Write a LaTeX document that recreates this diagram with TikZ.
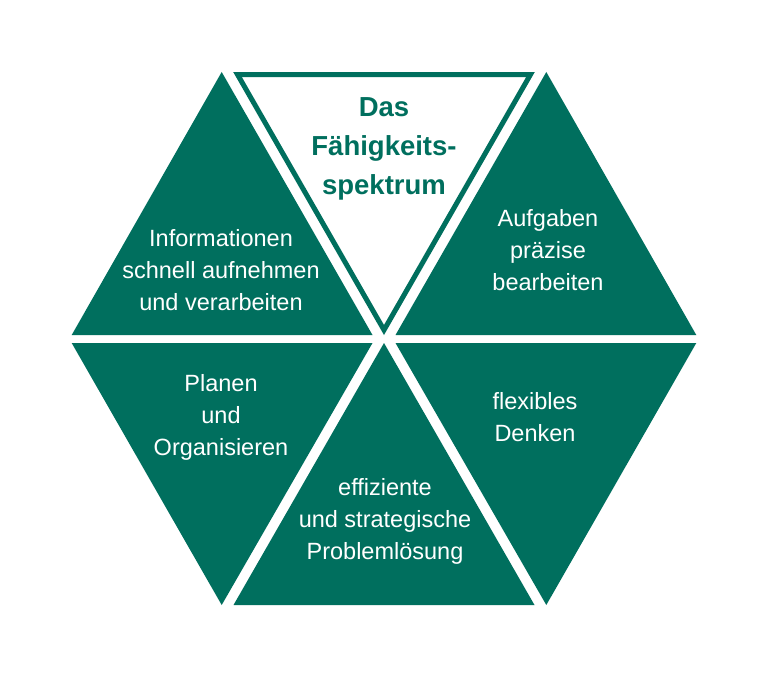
\documentclass[tikz,border=0pt]{standalone}
\usepackage{fontspec}
\setmainfont{Liberation Sans}
\definecolor{hexgreen}{HTML}{006F5E}
\begin{document}
\begin{tikzpicture}[x=1pt,y=-1pt,
  tri/.style={fill=hexgreen,draw=none},
  lbl/.style={text=white,align=center,inner sep=0pt,font=\fontsize{23.5}{32}\selectfont},
  ttl/.style={text=hexgreen,align=center,inner sep=0pt,font=\bfseries\fontsize{27.5}{39}\selectfont}]
\useasboundingbox (0,0) rectangle (768,677);
\fill[white] (0,0) rectangle (768,677);
% upper row
\fill[tri] (71.7,335) -- (221.7,72) -- (372.5,335) -- cycle;
\fill[tri] (395.5,335) -- (546.3,72) -- (696.3,335) -- cycle;
\draw[hexgreen,line width=5pt,line join=miter] (237.5,74.5) -- (530.5,74.5) -- (384,330) -- cycle;
% lower row
\fill[tri] (71.7,343) -- (372.5,343) -- (221.7,605) -- cycle;
\fill[tri] (384,343) -- (534.5,605) -- (233.5,605) -- cycle;
\fill[tri] (395.5,343) -- (696.3,343) -- (546.3,605) -- cycle;
% texts
\node[ttl] (title) at (384,149) {Das\\Fähigkeits-\\spektrum};
\node[lbl] (info) at (221,270) {Informationen\\schnell aufnehmen\\und verarbeiten};
\node[lbl] (aufg) at (548,250) {Aufgaben\\präzise\\bearbeiten};
\node[lbl] (plan) at (221,417) {Planen\\und\\Organisieren};
\node[lbl] (flex) at (535,417) {flexibles\\Denken};
\node[lbl] (prob) at (385,521) {effiziente\\und strategische\\Problemlösung};
\end{tikzpicture}
\end{document}
